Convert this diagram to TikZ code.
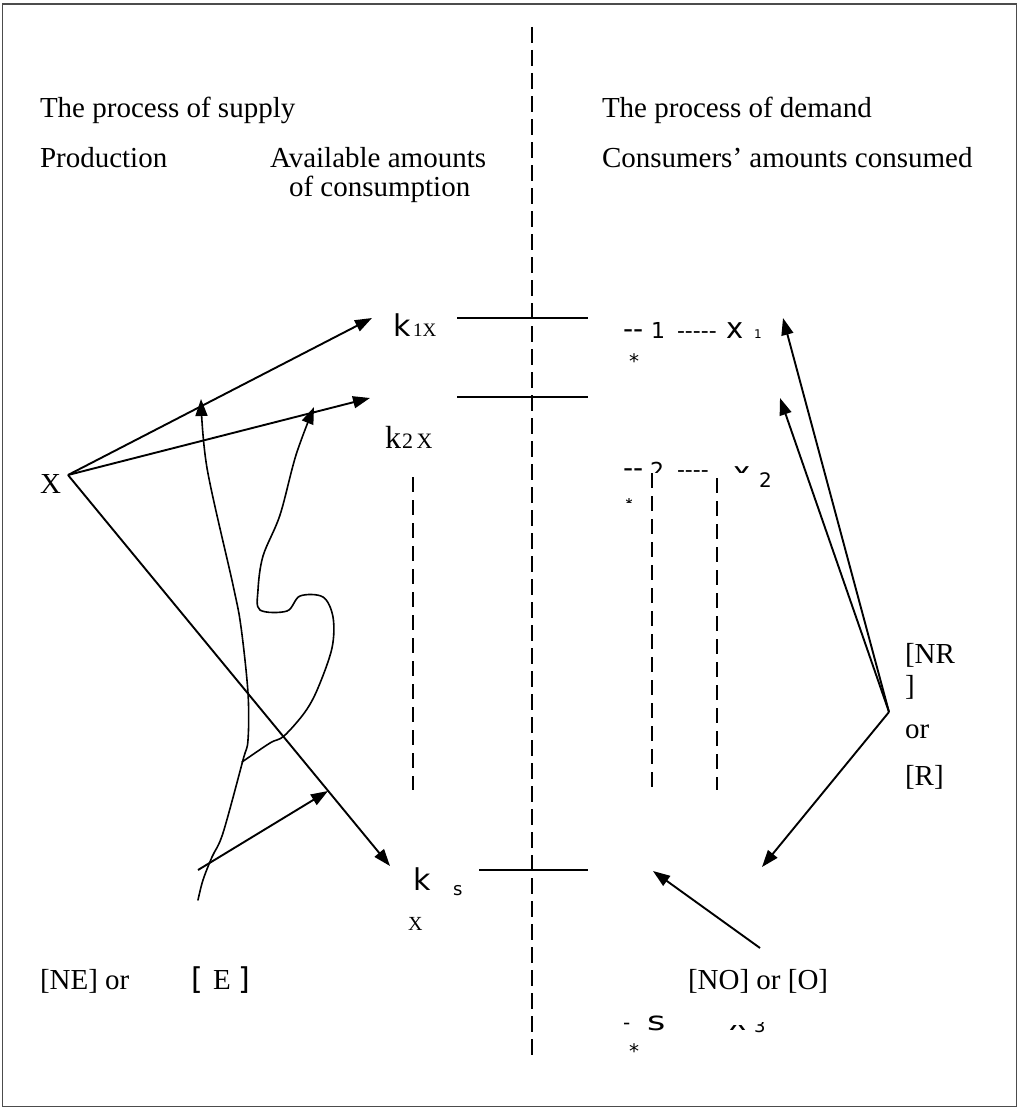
\documentclass[tikz,border=0pt]{standalone}
\usepackage{fontspec}
\setmainfont{Liberation Serif}
\setsansfont{DejaVu Sans}
\usetikzlibrary{arrows.meta}
\newcommand\myfs[1]{\fontsize{#1}{#1}\selectfont}
\begin{document}
\begin{tikzpicture}[x=1pt,y=-1pt,
  every node/.style={inner sep=0pt,outer sep=0pt,anchor=base west},
  txt/.style={font=\myfs{29}},
  conn/.style={line width=1.9pt},
  arr/.style={conn,-{Triangle[length=17pt,width=12pt]}},
  crv/.style={line width=1.6pt,line join=round,line cap=round},
  crvarr/.style={crv,-{Triangle[length=17pt,width=12pt]}},
  vdash/.style={line width=1.8pt,dash pattern=on 16pt off 7pt},
  framebox/.style={draw=black!70,line width=1.5pt}]
\useasboundingbox (0,0) rectangle (1019,1108);
\draw[framebox] (2.5,4) rectangle (1016.5,1106.5);

% central dashed divider
\draw[vdash] (532,27) -- (532,1058);

% headings
\node[txt] (supply) at (40,117) {The process of supply};
\node[txt] (prod) at (40,167) {Production};
\node[txt] (avail) at (270,167) {Available amounts};
\node[txt] (ofcons) at (289,196) {of consumption};
\node[txt] (demand) at (602,117) {The process of demand};
\node[txt] (consumers) at (602,167) {Consumers’ amounts consumed};

% X
\node[txt] (X) at (40,493) {X};
\coordinate (xo) at (68,475);

% k1X
\node[font=\sffamily\myfs{30}] (k1) at (393,336) {k};
\node[font=\myfs{19}] (k1s) at (413,336) {1X};
% k2X
\node[font=\myfs{32}] (k2) at (385,448) {k};
\node[font=\myfs{22}] (k2s) at (402,448) {2\,X};
% ks X
\node[font=\sffamily\myfs{30}] (k3) at (413,890) {k};
\node[font=\sffamily\myfs{18}] (k3s) at (453,895) {s};
\node[font=\myfs{20}] (k3x) at (408,930) {X};

% horizontal bars
\draw[conn] (457,318) -- (588,318);
\draw[conn] (457,397) -- (588,397);
\draw[conn] (479,870) -- (588,870);

% short dashed verticals
\draw[vdash,dash pattern=on 15pt off 8pt] (413,477) -- (413,790);
\draw[vdash,dash pattern=on 15pt off 8pt] (652,473) -- (652,790);
\draw[vdash,dash pattern=on 15pt off 8pt] (717,478) -- (717,790);

% demand line 1
\node[font=\sffamily\myfs{28}] (d1a) at (623,338) {-{}-};
\node[font=\sffamily\myfs{22}] (d1b) at (651,338) {1};
\node[font=\sffamily\myfs{22}] (d1c) at (677,338) {-{}-{}-{}-{}-};
\node[font=\sffamily\myfs{29}] (d1d) at (726,338) {x};
\node[font=\sffamily\myfs{12}] (d1e) at (754,338) {1};
\node[font=\sffamily\myfs{20},anchor=center] (d1s) at (634,361) {*};

% demand line 2 (cut off)
\begin{scope}
  \clip (600,440) rectangle (757,472);
  \node[font=\sffamily\myfs{28}] (d2a) at (623,477) {-{}-};
  \node[font=\sffamily\myfs{22}] (d2b) at (650,478) {2};
  \node[font=\sffamily\myfs{22}] (d2c) at (677,477) {-{}-{}-{}-};
  \node[font=\sffamily\myfs{29}] (d2d) at (733,482) {x};
\end{scope}
\node[font=\sffamily\myfs{20}] (d2e) at (759,487) {2};
\begin{scope}
  \clip (626,498) rectangle (631,502);
  \node[font=\sffamily\myfs{20},anchor=center] (d2s) at (629,505) {*};
\end{scope}

% demand line s (cut off)
\node[font=\sffamily\myfs{20}] (d3a) at (623,1029) {-};
\node[font=\sffamily\myfs{26},xscale=1.35] (d3b) at (647,1030) {s};
\begin{scope}
  \clip (725,1025) rectangle (752,1040);
  \node[font=\sffamily\myfs{29}] (d3c) at (729,1030) {x};
\end{scope}
\begin{scope}
  \clip (750,1022) rectangle (770,1040);
  \node[font=\sffamily\myfs{18}] (d3d) at (754,1032) {3};
\end{scope}
\node[font=\sffamily\myfs{20},anchor=center] (d3s) at (634,1051) {*};

% arrows from X
\coordinate (t1) at (372,318);
\coordinate (t2) at (370,398);
\coordinate (t3) at (390,866);
\draw[arr] (xo) -- (t1);
\draw[arr] (xo) -- (t2);
\draw[arr] (xo) -- (t3);

% wavy curves
\draw[crvarr] plot[smooth,tension=0.55] coordinates {(198,900) (203,880) (212,857) (223,833) (243,760) (248,740) (248,693) (241,627) (233,585) (207,468) (201,399)};
\draw[crvarr] plot[smooth,tension=0.55] coordinates {(242,762) (270,743) (284,736) (305,712) (318,688) (332,648) (333,617) (323,597) (300,596) (287,611) (260,610) (258,590) (263,556) (280,515) (296,455) (314,407)};
\coordinate (a4s) at (198,870);
\coordinate (a4t) at (328,791);
\draw[arr] (a4s) -- (a4t);

% right-side arrows
\coordinate (ro) at (889,712);
\coordinate (r1) at (783,318);
\coordinate (r2) at (780,398);
\coordinate (r3) at (762,867);
\draw[arr] (ro) -- (r1);
\draw[arr] (ro) -- (r2);
\draw[arr] (ro) -- (r3);
\coordinate (no) at (760,948);
\coordinate (nt) at (653,871);
\draw[arr] (no) -- (nt);

% right labels
\node[txt] (nr) at (905,663) {[NR};
\node[txt] (nrb) at (905,695) {]};
\node[txt] (or) at (905,738) {or};
\node[txt] (rr) at (905,785) {[R]};

% bottom labels
\node[txt] (ne) at (40,989) {[NE] or};
\node[font=\sffamily\myfs{30}] (eb1) at (191,989) {[};
\node[txt] (ee) at (213,989) {E};
\node[font=\sffamily\myfs{30}] (eb2) at (238,989) {]};
\node[txt] (noo) at (688,989) {[NO] or [O]};
\end{tikzpicture}
\end{document}
